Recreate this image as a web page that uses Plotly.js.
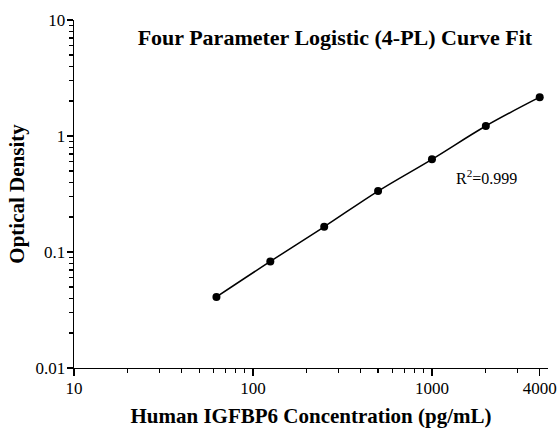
<!DOCTYPE html>
<html>
<head>
<meta charset="utf-8">
<script src="https://cdn.plot.ly/plotly-3.0.1.min.js"></script>
<style>html,body{margin:0;padding:0;background:#fff;}#chart{width:560px;height:428px;}</style>
</head>
<body>
<div id="chart"></div>
<script>
const concentration = [62.5, 125, 250, 500, 1000, 2000, 4000];
const opticalDensity = [0.041, 0.083, 0.165, 0.335, 0.63, 1.22, 2.16];
const xTickVals = [10, 100, 1000, 4000];
const xTickText = ["10", "100", "1000", "4000"];
const xMinorTicks = [20,30,40,50,60,70,80,90,200,300,400,500,600,700,800,900,2000,3000];
const yTickVals = [0.01, 0.1, 1, 10];
const yTickText = ["0.01", "0.1", "1", "10"];
const yMinorTicks = [0.02,0.03,0.04,0.05,0.06,0.07,0.08,0.09,0.2,0.3,0.4,0.5,0.6,0.7,0.8,0.9,2,3,4,5,6,7,8,9];
const titleText = "Four Parameter Logistic (4-PL) Curve Fit";
const xTitle = "Human IGFBP6 Concentration (pg/mL)";
const yTitle = "Optical Density";
const r2Text = "R<sup>2</sup>=0.999";

const serif = "Liberation Serif";
const xRange = [1, Math.log10(4450)];
const yRange = [-2, 1];

// main axes carry labels + all tick marks (short); overlay axes add longer major ticks
const xAllVals = xTickVals.concat(xMinorTicks);
const xAllText = xTickText.concat(xMinorTicks.map(() => ""));
const yAllVals = yTickVals.concat(yMinorTicks);
const yAllText = yTickText.concat(yMinorTicks.map(() => ""));

const trace = {
  x: concentration, y: opticalDensity, type: "scatter", mode: "lines+markers",
  line: {color: "#000", width: 1.5, shape: "spline"},
  marker: {color: "#000", size: 8}, hoverinfo: "skip"
};
const majorTrace = {
  x: concentration, y: opticalDensity, xaxis: "x2", yaxis: "y2",
  type: "scatter", mode: "lines", opacity: 0, hoverinfo: "skip"
};
const overlayAxis = {
  type: "log", tickmode: "array", ticks: "outside", ticklen: 7, tickwidth: 1.2, tickcolor: "#000",
  showticklabels: false, showline: false, showgrid: false, zeroline: false
};

const layout = {
  width: 560, height: 428,
  margin: {l: 74, r: 12, t: 20, b: 60},
  paper_bgcolor: "#fff", plot_bgcolor: "#fff", showlegend: false,
  font: {family: serif, color: "#000"},
  title: {text: titleText, font: {family: serif, size: 22, color: "#000", weight: "bold"},
    x: 0.598, xanchor: "center", y: 0.913, yanchor: "middle"},
  xaxis: {
    type: "log", range: xRange, tickmode: "array", tickvals: xAllVals, ticktext: xAllText,
    ticks: "outside", ticklen: 4, tickwidth: 1.2, tickcolor: "#000",
    showline: true, linecolor: "#000", linewidth: 1.3, showgrid: false, zeroline: false,
    tickfont: {family: serif, size: 17, color: "#000"},
    title: {text: xTitle, font: {family: serif, size: 21, color: "#000", weight: "bold"}, standoff: 12}
  },
  yaxis: {
    type: "log", range: yRange, tickmode: "array", tickvals: yAllVals, ticktext: yAllText,
    ticks: "outside", ticklen: 4, tickwidth: 1.2, tickcolor: "#000",
    showline: true, linecolor: "#000", linewidth: 1.3, showgrid: false, zeroline: false,
    tickfont: {family: serif, size: 17, color: "#000"},
    title: {text: yTitle, font: {family: serif, size: 21, color: "#000", weight: "bold"}, standoff: 5}
  },
  xaxis2: Object.assign({}, overlayAxis, {overlaying: "x", anchor: "y", side: "bottom", range: xRange, tickvals: xTickVals}),
  yaxis2: Object.assign({}, overlayAxis, {overlaying: "y", anchor: "x", side: "left", range: yRange, tickvals: yTickVals, ticklen: 6}),
  annotations: [{text: r2Text, xref: "paper", yref: "paper", x: 0.871, y: 0.549,
    xanchor: "center", yanchor: "middle", showarrow: false,
    font: {family: serif, size: 16, color: "#000"}}]
};

Plotly.newPlot("chart", [trace, majorTrace], layout, {displayModeBar: false, staticPlot: true});
</script>
</body>
</html>
